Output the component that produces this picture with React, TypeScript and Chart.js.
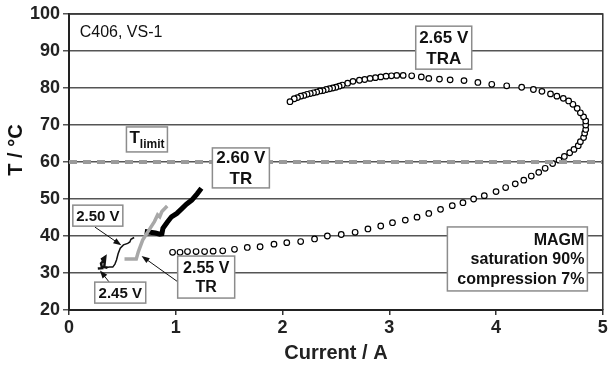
import React, { useEffect, useRef } from "react";
import { Chart, registerables } from "chart.js";

Chart.register(...registerables);

// ---------- axis ranges ----------
const X_MIN = 0;
const X_MAX = 5;
const Y_MIN = 20;
const Y_MAX = 100;
const T_LIMIT = 60;

// ---------- series: 2.45 V ----------
const V245_CURRENT = [0.27, 0.31, 0.30, 0.32, 0.31, 0.34, 0.33, 0.36];
const V245_TEMP = [31.2, 31.3, 32.6, 33.2, 33.8, 34.4, 31.6, 31.4];

// ---------- series: 2.50 V ----------
const V250_CURRENT = [0.35, 0.38, 0.41, 0.43, 0.445, 0.46, 0.48, 0.51, 0.55, 0.57, 0.58, 0.61];
const V250_TEMP = [31.5, 31.6, 31.6, 32.4, 33.5, 35.2, 36.7, 37.6, 38.0, 38.4, 39.1, 39.6];

// ---------- series: 2.55 V TR ----------
const V255_CURRENT = [0.52, 0.57, 0.63, 0.65, 0.69, 0.74, 0.80, 0.83, 0.85, 0.87, 0.92];
const V255_TEMP = [33.8, 33.8, 33.8, 35.8, 38.9, 41.2, 43.9, 45.7, 45.2, 46.6, 48.1];

// ---------- series: 2.60 V TR ----------
const V260_CURRENT = [0.71, 0.76, 0.81, 0.85, 0.87, 0.88, 0.92, 0.96, 1.01, 1.05, 1.10, 1.15, 1.20, 1.24];
const V260_TEMP = [41.2, 41.0, 40.8, 40.5, 40.6, 42.1, 43.7, 45.2, 46.1, 47.2, 48.6, 49.7, 51.4, 52.9];

// ---------- series: 2.65 V TRA ----------
const TRA_CURRENT = [0.97, 1.04, 1.11, 1.19, 1.27, 1.35, 1.44, 1.55, 1.67, 1.79, 1.92, 2.04, 2.17, 2.30, 2.42, 2.55, 2.68, 2.80, 2.92, 3.03, 3.15, 3.26, 3.37, 3.48, 3.59, 3.69, 3.79, 3.89, 4.00, 4.09, 4.18, 4.26, 4.33, 4.40, 4.46, 4.53, 4.59, 4.64, 4.69, 4.73, 4.77, 4.79, 4.82, 4.83, 4.84, 4.84, 4.84, 4.82, 4.79, 4.76, 4.72, 4.68, 4.63, 4.57, 4.51, 4.43, 4.35, 4.24, 4.10, 3.96, 3.83, 3.70, 3.57, 3.47, 3.37, 3.30, 3.21, 3.13, 3.07, 3.02, 2.97, 2.92, 2.87, 2.82, 2.77, 2.72, 2.66, 2.61, 2.56, 2.53, 2.50, 2.47, 2.44, 2.41, 2.38, 2.35, 2.32, 2.29, 2.26, 2.23, 2.20, 2.17, 2.14, 2.11, 2.07];
const TRA_TEMP = [35.6, 35.6, 35.8, 35.8, 35.8, 35.9, 36.0, 36.4, 36.9, 37.1, 37.8, 38.2, 38.5, 39.2, 40.0, 40.4, 41.0, 41.9, 42.7, 43.6, 44.3, 45.1, 46.1, 47.2, 48.2, 49.0, 50.0, 50.9, 52.0, 53.1, 54.1, 55.1, 56.2, 57.2, 58.3, 59.6, 60.5, 61.5, 62.5, 63.4, 64.4, 65.5, 66.6, 67.8, 68.8, 70.0, 71.1, 72.2, 73.3, 74.5, 75.6, 76.5, 77.2, 77.8, 78.4, 79.1, 79.6, 80.2, 80.6, 81.0, 81.5, 82.0, 82.2, 82.4, 82.6, 83.0, 83.3, 83.4, 83.4, 83.3, 83.2, 83.0, 82.8, 82.6, 82.3, 82.1, 81.8, 81.3, 80.8, 80.5, 80.2, 80.0, 79.8, 79.6, 79.3, 79.2, 78.9, 78.7, 78.5, 78.3, 78.0, 77.8, 77.4, 77.1, 76.3];

// ---------- text ----------
const X_TITLE = "Current / A";
const Y_TITLE = "T / °C";
const CHART_LABEL = "C406, VS-1";

const FONT = "'Liberation Sans', Arial, Helvetica, sans-serif";

type Label = { x: number; y: number; lines: string[]; w: number; h: number; size: number; align?: "center" | "right" };
const LABELS: Label[] = [
  { x: 1.61, y: 58.4, lines: ["2.60 V", "TR"], w: 57, h: 40, size: 17 },
  { x: 3.51, y: 90.9, lines: ["2.65 V", "TRA"], w: 56, h: 43, size: 17 },
  { x: 0.27, y: 45.5, lines: ["2.50 V"], w: 50, h: 21, size: 15 },
  { x: 0.48, y: 24.7, lines: ["2.45 V"], w: 51, h: 21, size: 15 },
  { x: 1.285, y: 28.9, lines: ["2.55 V", "TR"], w: 57, h: 42, size: 16 },
  { x: 4.2, y: 33.8, lines: ["MAGM", "saturation 90%", "compression 7%"], w: 140, h: 64, size: 16, align: "right" },
];

const ARROWS = [
  { from: [0.243, 42.4], to: [0.49, 37.5] },
  { from: [0.383, 27.3], to: [0.29, 30.7] },
  { from: [1.02, 27.6], to: [0.68, 34.6] },
];

const TLIMIT_BOX = { x: 0.73, y: 66.1, w: 41, h: 25 };

const toPts = (xs: number[], ys: number[]) => xs.map((x, i) => ({ x, y: ys[i] }));

const overlayPlugin = {
  id: "overlay",
  afterDatasetsDraw(chart: any) {
    const { ctx, chartArea, scales } = chart;
    const xs = scales.x;
    const ys = scales.y;
    ctx.save();
    // frame right & top
    ctx.strokeStyle = "#333";
    ctx.lineWidth = 1.5;
    ctx.beginPath();
    ctx.moveTo(chartArea.left, chartArea.top);
    ctx.lineTo(chartArea.right, chartArea.top);
    ctx.lineTo(chartArea.right, chartArea.bottom);
    ctx.stroke();

    // arrows
    ctx.strokeStyle = "#111";
    ctx.fillStyle = "#111";
    ctx.lineWidth = 1;
    for (const a of ARROWS) {
      const x1 = xs.getPixelForValue(a.from[0]);
      const y1 = ys.getPixelForValue(a.from[1]);
      const x2 = xs.getPixelForValue(a.to[0]);
      const y2 = ys.getPixelForValue(a.to[1]);
      const ang = Math.atan2(y2 - y1, x2 - x1);
      ctx.beginPath();
      ctx.moveTo(x1, y1);
      ctx.lineTo(x2 - Math.cos(ang) * 4, y2 - Math.sin(ang) * 4);
      ctx.stroke();
      ctx.beginPath();
      ctx.moveTo(x2, y2);
      ctx.lineTo(x2 - 8 * Math.cos(ang) + 3 * Math.sin(ang), y2 - 8 * Math.sin(ang) - 3 * Math.cos(ang));
      ctx.lineTo(x2 - 8 * Math.cos(ang) - 3 * Math.sin(ang), y2 - 8 * Math.sin(ang) + 3 * Math.cos(ang));
      ctx.closePath();
      ctx.fill();
    }

    const box = (cx: number, cy: number, w: number, h: number) => {
      ctx.fillStyle = "#fff";
      ctx.fillRect(cx - w / 2, cy - h / 2, w, h);
      ctx.strokeStyle = "#8c8c8c";
      ctx.lineWidth = 1.5;
      ctx.strokeRect(cx - w / 2, cy - h / 2, w, h);
    };

    // labels
    for (const l of LABELS) {
      const cx = xs.getPixelForValue(l.x);
      const cy = ys.getPixelForValue(l.y);
      box(cx, cy, l.w, l.h);
      ctx.fillStyle = "#111";
      ctx.font = `bold ${l.size}px ${FONT}`;
      ctx.textBaseline = "middle";
      const lh = l.size * 1.2;
      const top = cy - (lh * (l.lines.length - 1)) / 2;
      l.lines.forEach((t, i) => {
        if (l.align === "right") {
          ctx.textAlign = "right";
          ctx.fillText(t, cx + l.w / 2 - 3, top + i * lh + 1);
        } else {
          ctx.textAlign = "center";
          ctx.fillText(t, cx, top + i * lh + 1);
        }
      });
    }

    // T limit
    {
      const cx = xs.getPixelForValue(TLIMIT_BOX.x);
      const cy = ys.getPixelForValue(TLIMIT_BOX.y);
      box(cx, cy, TLIMIT_BOX.w, TLIMIT_BOX.h);
      ctx.fillStyle = "#111";
      ctx.textAlign = "left";
      ctx.textBaseline = "alphabetic";
      ctx.font = `bold 17px ${FONT}`;
      const tW = ctx.measureText("T").width;
      ctx.font = `bold 12px ${FONT}`;
      const sW = ctx.measureText("limit").width;
      const start = cx - (tW + sW) / 2;
      ctx.font = `bold 17px ${FONT}`;
      ctx.fillText("T", start, cy + 4);
      ctx.font = `bold 12px ${FONT}`;
      ctx.fillText("limit", start + tW, cy + 9);
    }

    // chart label
    ctx.fillStyle = "#111";
    ctx.font = `16px ${FONT}`;
    ctx.textAlign = "left";
    ctx.textBaseline = "middle";
    ctx.fillText(CHART_LABEL, xs.getPixelForValue(0.1), ys.getPixelForValue(95.1));

    // y title
    ctx.save();
    ctx.translate(16.5, (chartArea.top + chartArea.bottom) / 2 - 12);
    ctx.rotate(-Math.PI / 2);
    ctx.font = `bold 20px ${FONT}`;
    ctx.textAlign = "center";
    ctx.textBaseline = "middle";
    ctx.fillText(Y_TITLE, 0, 0);
    ctx.restore();

    ctx.restore();
  },
};

export default function App() {
  const ref = useRef<HTMLCanvasElement | null>(null);
  useEffect(() => {
    document.body.style.margin = "0";
    if (!ref.current) return;
    const chart = new Chart(ref.current, {
      type: "scatter",
      data: {
        datasets: [
          {
            label: "Tlimit",
            data: [
              { x: X_MIN, y: T_LIMIT },
              { x: X_MAX, y: T_LIMIT },
            ],
            showLine: true,
            borderColor: "#9a9a9a",
            borderWidth: 4,
            borderDash: [8, 6],
            pointRadius: 0,
          },
          {
            label: "2.45 V",
            data: toPts(V245_CURRENT, V245_TEMP),
            showLine: true,
            borderColor: "#111",
            borderWidth: 2.5,
            pointRadius: 0,
          },
          {
            label: "2.50 V",
            data: toPts(V250_CURRENT, V250_TEMP),
            showLine: true,
            borderColor: "#111",
            borderWidth: 1.5,
            pointRadius: 0,
          },
          {
            label: "2.55 V TR",
            data: toPts(V255_CURRENT, V255_TEMP),
            showLine: true,
            borderColor: "#a8a8a8",
            borderWidth: 3.5,
            pointRadius: 0,
          },
          {
            label: "2.60 V TR",
            data: toPts(V260_CURRENT, V260_TEMP),
            showLine: true,
            borderColor: "#000",
            borderWidth: 5,
            pointRadius: 0,
          },
          {
            label: "2.65 V TRA",
            data: toPts(TRA_CURRENT, TRA_TEMP),
            showLine: false,
            pointRadius: 2.8,
            pointBackgroundColor: "#fff",
            pointBorderColor: "#000",
            pointBorderWidth: 1.2,
          },
        ],
      },
      options: {
        responsive: false,
        animation: false,
        layout: { padding: { top: 14, right: 4, left: 0, bottom: 0 } },
        plugins: { legend: { display: false }, tooltip: { enabled: false } },
        scales: {
          x: {
            type: "linear",
            min: X_MIN,
            max: X_MAX,
            ticks: { stepSize: 1, color: "#222", font: { family: FONT, size: 18, weight: "bold" }, padding: 2 },
            grid: { drawOnChartArea: false, tickLength: 5, color: "#333", lineWidth: 1.5 },
            border: { color: "#222", width: 2 },
            title: { display: true, text: X_TITLE, color: "#222", font: { family: FONT, size: 20, weight: "bold" }, padding: { top: 0, bottom: 4 } },
            afterFit(s: any) {
              s.height = 59;
              s.paddingLeft = 0;
              s.paddingRight = 0;
            },
          },
          y: {
            type: "linear",
            min: Y_MIN,
            max: Y_MAX,
            ticks: { stepSize: 10, color: "#222", font: { family: FONT, size: 18, weight: "bold" }, padding: 3 },
            grid: { color: "#555", lineWidth: 1.5, tickLength: 6 },
            border: { color: "#222", width: 2 },
            afterFit(s: any) {
              s.width = 69;
              s.paddingTop = 0;
              s.paddingBottom = 0;
            },
          },
        },
      },
      plugins: [overlayPlugin],
    } as any);
    return () => chart.destroy();
  }, []);
  return (
    <div style={{ width: 608, height: 369 }}>
      <canvas ref={ref} width={608} height={369} style={{ display: "block" }} />
    </div>
  );
}
